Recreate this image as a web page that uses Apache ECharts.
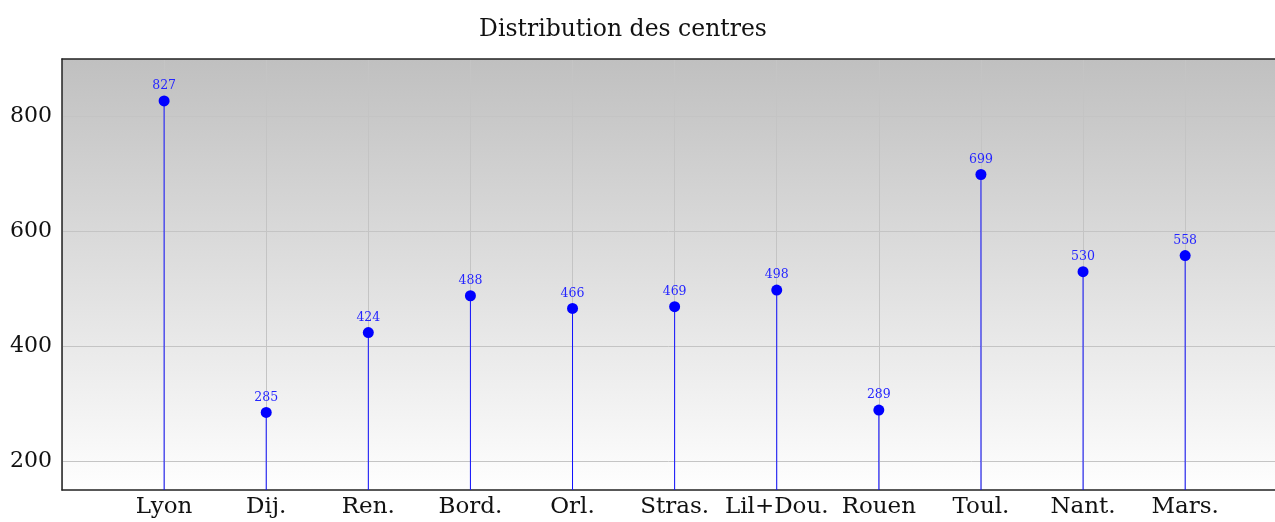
<!DOCTYPE html>
<html>
<head>
<meta charset="utf-8">
<script src="https://cdn.jsdelivr.net/npm/echarts@6/dist/echarts.min.js"></script>
<style>
  html, body { margin: 0; padding: 0; background: #fff; }
  #chart { width: 1275px; height: 522px; }
</style>
</head>
<body>
<div id="chart"></div>
<script>
var categories = ["Lyon", "Dij.", "Ren.", "Bord.", "Orl.", "Stras.", "Lil+Dou.", "Rouen", "Toul.", "Nant.", "Mars."];
var centres = [827, 285, 424, 488, 466, 469, 498, 289, 699, 530, 558];
var yTicks = [200, 400, 600, 800];

var serif = "'DejaVu Serif', serif";

// points [index, value]
var pts = [];
for (var i = 0; i < centres.length; i++) {
	pts.push([i, centres[i]]);
}

var myChart = echarts.init(document.getElementById("chart"));
var option = {
	animation: false,
	title: {
		text: "Distribution des centres",
		left: 618,
		textAlign: "center",
		top: 13,
		textStyle: { fontFamily: serif, fontWeight: "normal", fontSize: 23.5, color: "#111" }
	},
	grid: {
		left: 62, right: 0, top: 59, bottom: 32,
		show: true,
		borderWidth: 0,
		backgroundColor: {
			type: "linear", x: 0, y: 0, x2: 0, y2: 1,
			colorStops: [{ offset: 0, color: "#c0c0c0" }, { offset: 1, color: "#fefefe" }]
		}
	},
	xAxis: [{
		type: "value",
		min: -1,
		max: 10.88,
		interval: 1,
		axisLine: { onZero: false, lineStyle: { color: "#222", width: 1.5 } },
		axisTick: { show: false },
		splitLine: { show: true, lineStyle: { color: "#c4c4c4", width: 1 } },
		axisLabel: {
			margin: 6,
			fontFamily: serif, fontSize: 23, color: "#111",
			showMaxLabel: false,
			formatter: function (v) { return categories[v] || ""; }
		}
	}, {
		// top border line
		type: "value", position: "top", min: -1, max: 10.88,
		axisLine: { show: true, onZero: false, lineStyle: { color: "#222", width: 1.5 } },
		axisTick: { show: false }, axisLabel: { show: false }, splitLine: { show: false }
	}],
	yAxis: {
		type: "value",
		min: 150,
		max: 900,
		axisLine: { show: true, onZero: false, lineStyle: { color: "#222", width: 1.5 } },
		axisTick: { show: false, customValues: yTicks },
		axisLabel: { customValues: yTicks, margin: 10, fontFamily: serif, fontSize: 22, color: "#111" },
		splitLine: { show: true, lineStyle: { color: "#c4c4c4", width: 1 } }
	},
	series: [{
		type: "bar",
		data: pts,
		barWidth: 1,
		itemStyle: { color: "#1010ff" },
		silent: true
	}, {
		type: "scatter",
		data: pts,
		symbol: "circle",
		symbolSize: 11,
		itemStyle: { color: "#0000ff", opacity: 1 },
		label: {
			show: true,
			position: "top",
			distance: 3,
			fontFamily: serif,
			fontSize: 12.5,
			color: "#2525ff",
			formatter: function (p) { return p.value[1]; }
		}
	}]
};
myChart.setOption(option);
</script>
</body>
</html>
